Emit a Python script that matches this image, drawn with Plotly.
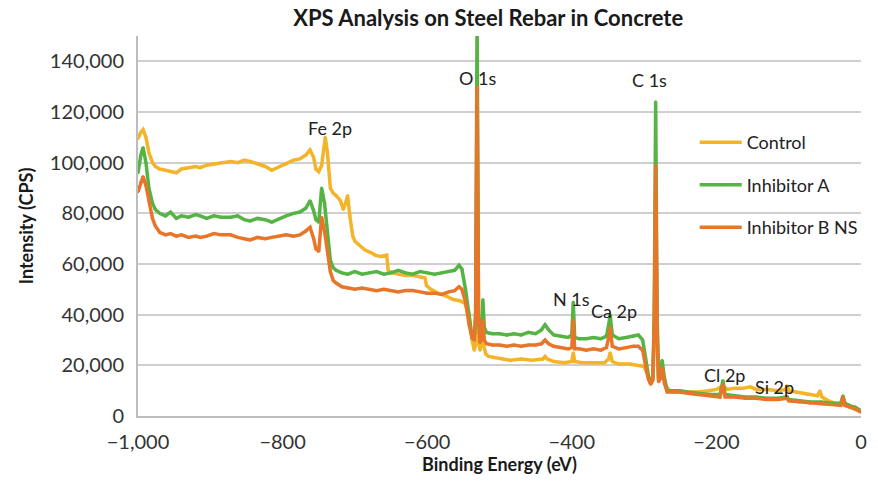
import plotly.graph_objects as go

# Survey spectra: binding energy (eV, plotted as negative) vs intensity (CPS)
control_ev = [-1000, -996, -993, -989, -985, -980, -976, -970, -962, -955, -947, -940, -930, -920,
              -914, -905, -895, -885, -872, -862, -853, -845, -835, -824, -815, -804, -795, -785,
              -776, -768, -762, -757, -754, -750, -746, -741, -738, -734, -730, -726, -720, -716,
              -713, -710, -707, -703, -700, -694, -686, -678, -672, -665, -656, -654, -648, -640,
              -630, -620, -610, -603, -601, -595, -585, -575, -564, -555, -548, -542, -538, -535,
              -533, -531, -529, -527, -525, -522, -519, -515, -505, -495, -485, -470, -455, -440,
              -437, -434, -425, -410, -400, -398, -396, -385, -370, -355, -349, -347, -344, -335,
              -320, -306, -300, -296, -292, -288, -286, -284, -282, -280, -277, -274, -270, -265,
              -255, -240, -225, -210, -200, -191, -185, -175, -163, -153, -145, -130, -115, -104,
              -102, -100, -90, -75, -60, -57, -54, -45, -35, -25, -15, -8, 0]
control_cps = [109500, 112000, 113000, 110000, 104000, 100000, 98500, 97500, 97000, 96500, 96000,
               97500, 98000, 98500, 98000, 99000, 99500, 100000, 100500, 100000, 101000, 100500,
               99500, 98500, 97000, 98500, 99500, 101000, 101500, 103000, 105000, 102000, 97500,
               96500, 99000, 110000, 104000, 90000, 88000, 87000, 85000, 81500, 84000, 87000,
               79000, 71000, 69000, 67500, 65500, 64500, 63500, 63000, 63500, 57500, 56500, 56000,
               55500, 55500, 55000, 54500, 51500, 50000, 48500, 47500, 46000, 45500, 44500, 40000,
               30000, 26000, 28000, 118000, 30000, 26000, 30000, 28000, 24500, 23500, 23000, 22500,
               22000, 22500, 22000, 22500, 23500, 22500, 21500, 21000, 21500, 25000, 21500, 21000,
               21000, 21000, 22500, 25000, 21500, 20500, 20500, 20000, 19500, 17000, 13500, 14500,
               30000, 85000, 30000, 14000, 15000, 18000, 12000, 10000, 9500, 9500, 9500, 10000,
               10500, 12000, 10500, 11000, 11000, 11500, 10500, 10500, 10000, 10500, 12000, 10000,
               9500, 8500, 8000, 10000, 7500, 6000, 5000, 4500, 3500, 2500, 1800]

inhibitor_ev = [-1000, -996, -993, -989, -985, -980, -976, -970, -962, -955, -947, -940, -930, -920,
                -914, -905, -895, -885, -872, -862, -853, -845, -835, -824, -815, -804, -795, -785,
                -776, -768, -762, -757, -754, -750, -746, -742, -738, -734, -730, -726, -718, -710,
                -700, -690, -680, -670, -660, -650, -640, -630, -620, -610, -600, -590, -580, -570,
                -562, -556, -552, -547, -542, -538, -535, -533, -531, -529, -527, -524, -523, -521,
                -518, -510, -500, -490, -480, -470, -460, -450, -442, -437, -432, -425, -415, -405,
                -400, -398, -396, -390, -380, -370, -360, -352, -349, -347, -344, -335, -325, -315,
                -308, -302, -298, -294, -291, -288, -286, -284, -282, -280, -277, -275, -272, -268,
                -260, -250, -240, -225, -210, -195, -191, -188, -175, -160, -145, -130, -115, -102,
                -100, -85, -70, -55, -40, -28, -25, -22, -15, -8, 0]
inhibitor_a_cps = [96000, 103000, 106000, 100000, 90000, 84000, 81500, 80000, 79000, 80500, 78000,
                   79000, 78500, 79500, 79000, 78000, 79000, 78500, 78500, 79000, 77500, 77000,
                   78000, 77500, 76500, 78000, 79000, 80000, 80500, 82000, 85000, 81000, 77500,
                   76500, 90000, 84000, 72000, 61500, 58500, 57500, 56500, 56000, 57000, 56000,
                   56500, 57000, 56000, 56500, 57500, 56500, 56000, 57000, 56500, 56000, 56500,
                   57000, 57500, 59500, 58000, 50000, 38000, 31000, 30500, 40000, 160000, 40000,
                   30000, 35000, 46000, 35000, 33000, 32500, 32500, 32000, 32500, 32000, 33000,
                   32500, 34000, 36000, 34000, 32000, 31500, 31000, 32000, 45000, 31000, 30500,
                   30500, 31000, 30500, 31500, 36000, 40000, 32000, 30500, 31000, 31500, 32000,
                   30000, 23000, 16000, 13500, 15000, 40000, 124000, 40000, 15000, 17000, 22000,
                   15000, 10000, 10000, 10000, 9500, 9000, 8500, 8500, 14000, 8500, 8000, 7500,
                   7500, 7000, 7000, 7500, 6500, 6000, 5500, 5500, 5000, 5000, 8000, 5000, 4000,
                   3500, 2000]
inhibitor_b_cps = [88500, 92500, 94500, 91000, 85000, 78000, 75000, 72500, 71500, 72000, 71000,
                   71500, 70500, 71000, 70500, 71000, 72000, 71500, 71500, 70500, 70000, 69500,
                   70500, 70000, 70500, 71000, 71500, 71000, 71500, 73000, 74500, 70000, 66000,
                   65000, 78500, 73000, 66000, 57000, 53500, 52500, 51000, 50500, 50000, 50500,
                   50000, 49500, 50000, 49500, 49000, 49500, 49500, 49000, 48500, 48500, 48000,
                   49000, 49500, 51000, 50000, 45000, 36000, 31000, 30000, 40000, 130000, 40000,
                   29000, 31000, 38000, 30000, 28500, 28000, 28000, 27500, 28000, 27500, 28000,
                   28000, 28500, 30000, 28500, 27500, 27000, 26500, 27000, 38000, 26500, 26500,
                   26000, 26500, 26000, 27000, 31000, 35000, 27500, 26500, 27000, 27500, 27500,
                   26000, 20000, 14500, 12500, 14000, 35000, 99000, 35000, 13500, 15000, 19000,
                   13000, 9500, 9500, 9500, 9000, 8500, 8000, 7500, 12500, 7500, 7500, 7000,
                   7000, 6500, 6500, 7000, 6000, 5500, 5000, 4800, 4500, 4200, 7500, 4200, 3500,
                   2800, 1500]

series_names = ["Control", "Inhibitor A", "Inhibitor B NS"]
series_colors = ["#F4B42A", "#55B444", "#E8762A"]

# Peak labels: (text, binding energy, intensity)
peak_labels = ["Fe 2p", "O 1s", "C 1s", "N 1s", "Ca 2p", "Cl 2p", "Si 2p"]
peak_ev = [-734, -531, -292, -400, -342, -189, -119]
peak_cps = [113500, 133500, 132500, 46000, 41300, 16000, 11600]

x_ticks = [-1000, -800, -600, -400, -200, 0]
y_ticks = [0, 20000, 40000, 60000, 80000, 100000, 120000, 140000]

FONT = "Lato"
fig = go.Figure()
for name, color, xs, ys, grp in zip(
        series_names, series_colors,
        [control_ev, inhibitor_ev, inhibitor_ev],
        [control_cps, inhibitor_a_cps, inhibitor_b_cps],
        ["g1", "g2", "g3"]):
    fig.add_trace(go.Scatter(
        x=xs, y=ys, name=name, legendgroup=grp,
        mode="lines+markers",
        line=dict(color=color, width=3.5),
        marker=dict(color=color, size=3),
    ))

for text, ex, ey in zip(peak_labels, peak_ev, peak_cps):
    fig.add_annotation(x=ex, y=ey, text=text, showarrow=False,
                       font=dict(family=FONT, size=18, color="#222222"))

fig.update_layout(
    width=878, height=482,
    margin=dict(l=138, r=17, t=36, b=66),
    paper_bgcolor="white", plot_bgcolor="white",
    title=dict(text="XPS Analysis on Steel Rebar in Concrete",
               x=0.556, xanchor="center", y=0.962, yanchor="middle",
               font=dict(family=FONT, size=22, color="#1a1a1a", weight="bold")),
    legend=dict(x=0.77, y=0.768, xanchor="left", yanchor="top",
                bgcolor="rgba(0,0,0,0)", traceorder="grouped", tracegroupgap=16,
                itemwidth=42,
                font=dict(family=FONT, size=18, color="#222222")),
    showlegend=True,
)
fig.update_xaxes(
    range=[-1000, 0], tickvals=x_ticks, tickformat=",d",
    automargin=False,
    showgrid=False, zeroline=False,
    showline=True, linecolor="#bdbdbd", linewidth=2,
    ticks="", ticklabelstandoff=7,
    tickfont=dict(family=FONT, size=20, color="#333333"),
    title=dict(text="Binding Energy (eV)", standoff=4,
               font=dict(family=FONT, size=18, color="#1a1a1a", weight="bold")),
)
fig.update_yaxes(
    range=[0, 150000], tickvals=y_ticks, tickformat=",d",
    automargin=False,
    showgrid=True, gridcolor="#cfcfcf", gridwidth=1.5, zeroline=False,
    showline=True, linecolor="#bdbdbd", linewidth=2,
    ticks="", ticklabelstandoff=8,
    tickfont=dict(family=FONT, size=20, color="#333333"),
    title=dict(text="Intensity (CPS)", standoff=12,
               font=dict(family=FONT, size=18, color="#1a1a1a", weight="bold")),
)

fig.write_html("out.html")
